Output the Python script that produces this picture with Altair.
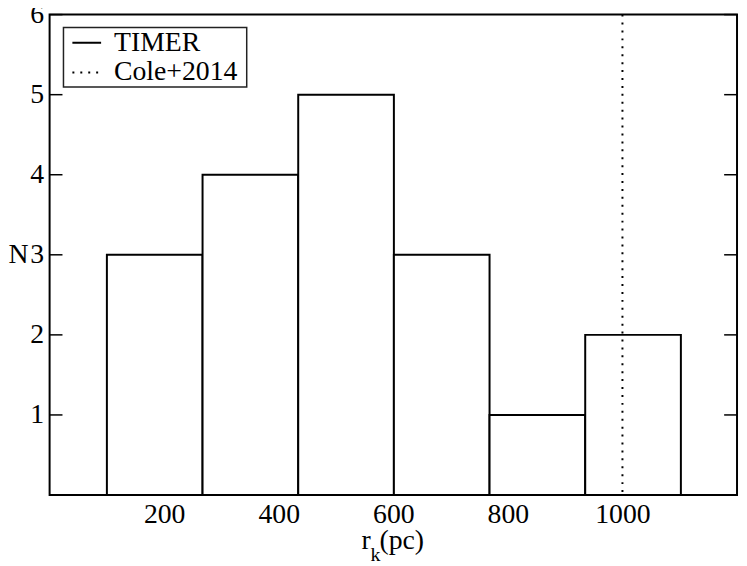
import altair as alt
import pandas as pd

# ---- data ----
bin_start = [100, 267, 434, 601, 768, 935]
bin_end = [267, 434, 601, 768, 935, 1102]
counts = [3, 4, 5, 3, 1, 2]
cole_radius = [1000]
series_names = ["TIMER", "Cole+2014"]
x_ticks = [200, 400, 600, 800, 1000]
y_ticks = [1, 2, 3, 4, 5, 6]
x_title_parts = ["r", "k", "(pc)"]
y_title = "N"

FONT = "Liberation Serif"
FS = 28
W, H = 694, 485

hist = pd.DataFrame({"start": bin_start, "end": bin_end, "n": counts})
cole = pd.DataFrame({"r": cole_radius, "series": [series_names[1]]})
ticks = pd.DataFrame({"y": y_ticks})

xscale = alt.Scale(domain=[0, 1200], nice=False, zero=False)
yscale = alt.Scale(domain=[0, 6], nice=False)

x_axis = alt.Axis(values=x_ticks, format="d", title=None, ticks=False, domain=False, grid=False,
                  labelFont=FONT, labelFontSize=FS, labelColor="black",
                  labelPadding=6, labelFlush=False)
y_axis = alt.Axis(values=y_ticks, format="d", ticks=False, domain=False, grid=False,
                  labelFont=FONT, labelFontSize=FS, labelColor="black",
                  labelPadding=6, labelFlush=False,
                  title=y_title, titleAngle=0, titleFont=FONT, titleFontSize=FS,
                  titleFontWeight="normal", titleColor="black",
                  titleAlign="left", titleBaseline="middle",
                  titleX=-42, titleY=H / 2)

bars = alt.Chart(hist).mark_rect(fill="white", stroke="black", strokeWidth=2).encode(
    x=alt.X("start:Q", scale=xscale, axis=x_axis),
    x2="end:Q",
    y=alt.Y("n:Q", scale=yscale, axis=y_axis),
    y2=alt.datum(0),
)

rule = alt.Chart(cole).mark_rule(color="black", strokeWidth=2).encode(
    x=alt.X("r:Q", scale=xscale, axis=x_axis),
    strokeDash=alt.StrokeDash(
        "series:N",
        scale=alt.Scale(domain=series_names, range=[[1, 0], [2, 6]]),
        legend=alt.Legend(title=None, orient="none", legendX=14, legendY=11,
                          padding=2, symbolOffset=6, labelOffset=12, rowPadding=0,
                          symbolType="stroke", symbolSize=841, symbolStrokeWidth=2,
                          symbolStrokeColor="black", labelFont=FONT, labelFontSize=FS,
                          labelColor="black"),
    ),
)

legend_box = alt.Chart(pd.DataFrame({"k": [0]})).mark_rect(
    fill="white", stroke="#222", strokeWidth=1.5
).encode(x=alt.value(14), x2=alt.value(199), y=alt.value(13), y2=alt.value(73))

left_ticks = alt.Chart(ticks).mark_rule(color="black", strokeWidth=1.5).encode(
    y=alt.Y("y:Q", scale=yscale, axis=y_axis), x=alt.value(0), x2=alt.value(13))
right_ticks = alt.Chart(ticks).mark_rule(color="black", strokeWidth=1.5).encode(
    y=alt.Y("y:Q", scale=yscale, axis=y_axis), x=alt.value(W - 13), x2=alt.value(W))


def title_part(txt, x, y, size):
    return alt.Chart(pd.DataFrame({"t": [txt]})).mark_text(
        font=FONT, fontSize=size, align="left", baseline="alphabetic", color="black"
    ).encode(text="t:N", x=alt.value(x), y=alt.value(y))


t_r = title_part(x_title_parts[0], 315, 540, FS)
t_k = title_part(x_title_parts[1], 324, 552, 20)
t_pc = title_part(x_title_parts[2], 333, 540, FS)

chart = alt.layer(bars, rule, legend_box, left_ticks, right_ticks, t_r, t_k, t_pc).properties(
    width=W, height=H,
    autosize="none",
    padding={"left": 42, "top": 4, "right": 2, "bottom": 69},
).configure_view(stroke="black", strokeWidth=2)

chart.save("out.html", embed_options={"renderer": "svg", "actions": False})
